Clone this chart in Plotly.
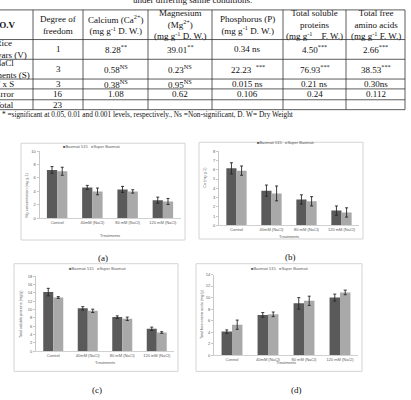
import plotly.graph_objects as go

W, H = 411, 400


def px(x):
    return x / W


def py(y):
    return 1 - y / H


# ---------------- data ----------------
categories = ["Control", "40mM (NaCl)", "80 mM (NaCl)", "120 mM (NaCl)"]
series_names = ["Basmati 515", "Super Basmati"]

mg_b515 = [7.2, 4.6, 4.3, 2.7]
mg_b515_err = [0.5, 0.3, 0.45, 0.45]
mg_super = [7.0, 4.0, 4.0, 2.5]
mg_super_err = [0.6, 0.5, 0.25, 0.45]

ca_b515 = [6.15, 3.75, 2.8, 1.6]
ca_b515_err = [0.6, 0.6, 0.5, 0.5]
ca_super = [5.9, 3.45, 2.6, 1.4]
ca_super_err = [0.5, 0.8, 0.5, 0.5]

tsp_b515 = [14.2, 10.3, 8.2, 5.4]
tsp_b515_err = [0.9, 0.4, 0.3, 0.4]
tsp_super = [12.9, 9.7, 7.8, 4.5]
tsp_super_err = [0.2, 0.4, 0.4, 0.2]

tfa_b515 = [4.1, 7.0, 9.0, 10.0]
tfa_b515_err = [0.3, 0.4, 1.0, 0.6]
tfa_super = [5.3, 7.1, 9.45, 10.9]
tfa_super_err = [0.8, 0.4, 0.8, 0.4]

# ANOVA table
table_header = [
    "<b>S.O.V</b>",
    "Degree of<br>freedom",
    "Calcium (Ca<sup>2+</sup>)<br>(mg g<sup>-1</sup> D. W.)",
    "Magnesium<br>(Mg<sup>2+</sup>)<br>(mg g<sup>-1</sup> D. W.)",
    "Phosphorus (P)<br>(mg g<sup>-1</sup> D. W.)",
    "Total soluble<br>proteins<br>(mg g<sup>-1</sup>    F. W.)",
    "Total free<br>amino acids<br>(mg g<sup>-1</sup> F. W.)",
]
sov = ["Rice<br>cultivars (V)", "NaCl<br>treatments (S)", "V x S", "Error", "Total"]
dof = ["1", "3", "3", "16", "23"]
calcium = ["8.28<sup>**</sup>", "0.58<sup>NS</sup>", "0.38<sup>NS</sup>", "1.08", ""]
magnesium = ["39.01<sup>**</sup>", "0.23<sup>NS</sup>", "0.95<sup>NS</sup>", "0.62", ""]
phosphorus = ["0.34 ns", "22.23  <sup>***</sup>", "0.015 ns", "0.106", ""]
proteins = ["4.50<sup>***</sup>", "76.93<sup>***</sup>", "0.21 ns", "0.24", ""]
amino = ["2.66<sup>***</sup>", "38.53<sup>***</sup>", "0.30ns", "0.112", ""]
footnote = "* =significant at 0.05, 0.01 and 0.001 levels, respectively., Ns =Non-significant, D. W= Dry Weight"
caption = "under differing saline conditions."

# ---------------- layout geometry ----------------
col_x = [33, 83, 148, 212, 283, 346, 405]
col_centers = [4, 58, 115.5, 180, 247.5, 314.5, 375.5]
row_y = [7, 37, 57, 77, 87, 98, 108]

DARK = "#5a5a5a"
LIGHT = "#a9a9a9"
SERIF = "Liberation Serif"
SANS = "Liberation Sans"
TICKC = "#595959"

panels = [
    dict(label="(a)", b=mg_b515, be=mg_b515_err, s=mg_super, se=mg_super_err,
         xd=(39.5, 180.5), yd=(150, 218), rng=[0, 10], dtick=2,
         box=(21, 142, 185, 240), lab=(103, 258),
         ytitle="Mg concentration (mg g-1)", yt=(27, 195), leg=(91, 145), xt=(110, 235)),
    dict(label="(b)", b=ca_b515, be=ca_b515_err, s=ca_super, se=ca_super_err,
         xd=(219, 359), yd=(150, 225.3), rng=[0, 8], dtick=1,
         box=(199, 141, 363, 239), lab=(290, 257),
         ytitle="Ca (mg g-1)", yt=(205, 177), leg=(285, 141), xt=(289, 236)),
    dict(label="(c)", b=tsp_b515, be=tsp_b515_err, s=tsp_super, se=tsp_super_err,
         xd=(36, 174), yd=(276.7, 352.7), rng=[0, 18], dtick=2,
         box=(14, 264, 178, 373), lab=(97, 392),
         ytitle="Total soluble proteins (mg/g)", yt=(21, 315), leg=(97, 269), xt=(105, 364)),
    dict(label="(d)", b=tfa_b515, be=tfa_b515_err, s=tfa_super, se=tfa_super_err,
         xd=(214, 358), yd=(275, 356.7), rng=[0, 14], dtick=2,
         box=(196, 264, 362, 373), lab=(296, 392),
         ytitle="Total free amino acids (mg/g)", yt=(202, 315), leg=(279, 269), xt=(286, 364)),
]


def ann(text, x, y, size, family=SERIF, color="#111", **kw):
    d = dict(text=text, xref="paper", yref="paper", x=px(x), y=py(y), showarrow=False,
             xanchor="center", yanchor="middle", font=dict(family=family, size=size, color=color))
    d.update(kw)
    return d


fig = go.Figure()
shapes = []
annotations = []
layout_axes = {}

for i, p in enumerate(panels):
    n = "" if i == 0 else str(i + 1)
    xa, ya = "x" + n, "y" + n
    for vals, errs, color, name in ((p["b"], p["be"], DARK, series_names[0]),
                                    (p["s"], p["se"], LIGHT, series_names[1])):
        fig.add_trace(go.Bar(
            x=categories, y=vals, name=name, xaxis=xa, yaxis=ya,
            marker=dict(color=color, line=dict(width=0)),
            error_y=dict(type="data", array=errs, color="#262626", thickness=0.9, width=1.5),
            showlegend=False,
        ))
    layout_axes["xaxis" + n] = dict(
        domain=[px(p["xd"][0]), px(p["xd"][1])], anchor=ya,
        showline=True, linecolor="#d0d0d0", linewidth=0.8, ticks="",
        tickfont=dict(size=4, color=TICKC, family=SANS), showgrid=False,
        fixedrange=True,
    )
    layout_axes["yaxis" + n] = dict(
        domain=[py(p["yd"][1]), py(p["yd"][0])], anchor=xa, range=p["rng"], dtick=p["dtick"],
        showline=True, linecolor="#c8c8c8", linewidth=0.8, ticks="outside", ticklen=2,
        tickcolor="#c8c8c8", tickwidth=0.6,
        tickfont=dict(size=4, color=TICKC, family=SANS), showgrid=False, zeroline=False,
        fixedrange=True,
    )
    x0, y0, x1, y1 = p["box"]
    shapes.append(dict(type="rect", xref="paper", yref="paper", layer="below",
                       x0=px(x0), x1=px(x1), y0=py(y1), y1=py(y0),
                       line=dict(color="#d4d4d4", width=1), fillcolor="white"))
    annotations.append(ann(p["label"], p["lab"][0], p["lab"][1], 9))
    annotations.append(ann(p["ytitle"], p["yt"][0], p["yt"][1], 3.8, SANS, TICKC, textangle=-90))
    annotations.append(ann("Treatments", p["xt"][0], p["xt"][1], 4, SANS, TICKC))
    leg_text = (f"<span style='color:{DARK}'>■</span>{series_names[0]}   "
                f"<span style='color:{LIGHT}'>■</span>{series_names[1]}")
    annotations.append(ann(leg_text, p["leg"][0], p["leg"][1], 4, SANS, TICKC))

# ---------------- table ----------------
LINE = dict(color="#333333", width=0.8)
for yv in row_y:
    shapes.append(dict(type="line", xref="paper", yref="paper",
                       x0=px(-2), x1=px(col_x[-1]), y0=py(yv), y1=py(yv), line=LINE))
for xv in col_x:
    shapes.append(dict(type="line", xref="paper", yref="paper",
                       x0=px(xv), x1=px(xv), y0=py(row_y[0]), y1=py(row_y[-1]), line=LINE))

hdr_y = (row_y[0] + row_y[1]) / 2
for j, txt in enumerate(table_header):
    annotations.append(ann(txt, col_centers[j], hdr_y, 9))

columns = [sov, dof, calcium, magnesium, phosphorus, proteins, amino]
for r in range(len(sov)):
    yc = (row_y[r + 1] + row_y[r + 2]) / 2
    for j, col in enumerate(columns):
        if col[r] == "":
            continue
        annotations.append(ann(col[r], col_centers[j], yc, 9))

annotations.append(ann(footnote, 0, 113, 7.3, xanchor="left"))
annotations.append(ann(caption, 192, -3.5, 9))

fig.update_layout(
    width=W, height=H, autosize=False,
    margin=dict(l=0, r=0, t=0, b=0),
    paper_bgcolor="white", plot_bgcolor="rgba(0,0,0,0)",
    barmode="group", bargap=0.42, bargroupgap=0.0,
    shapes=shapes, annotations=annotations,
    showlegend=False,
    **layout_axes,
)

fig.write_html("out.html")
